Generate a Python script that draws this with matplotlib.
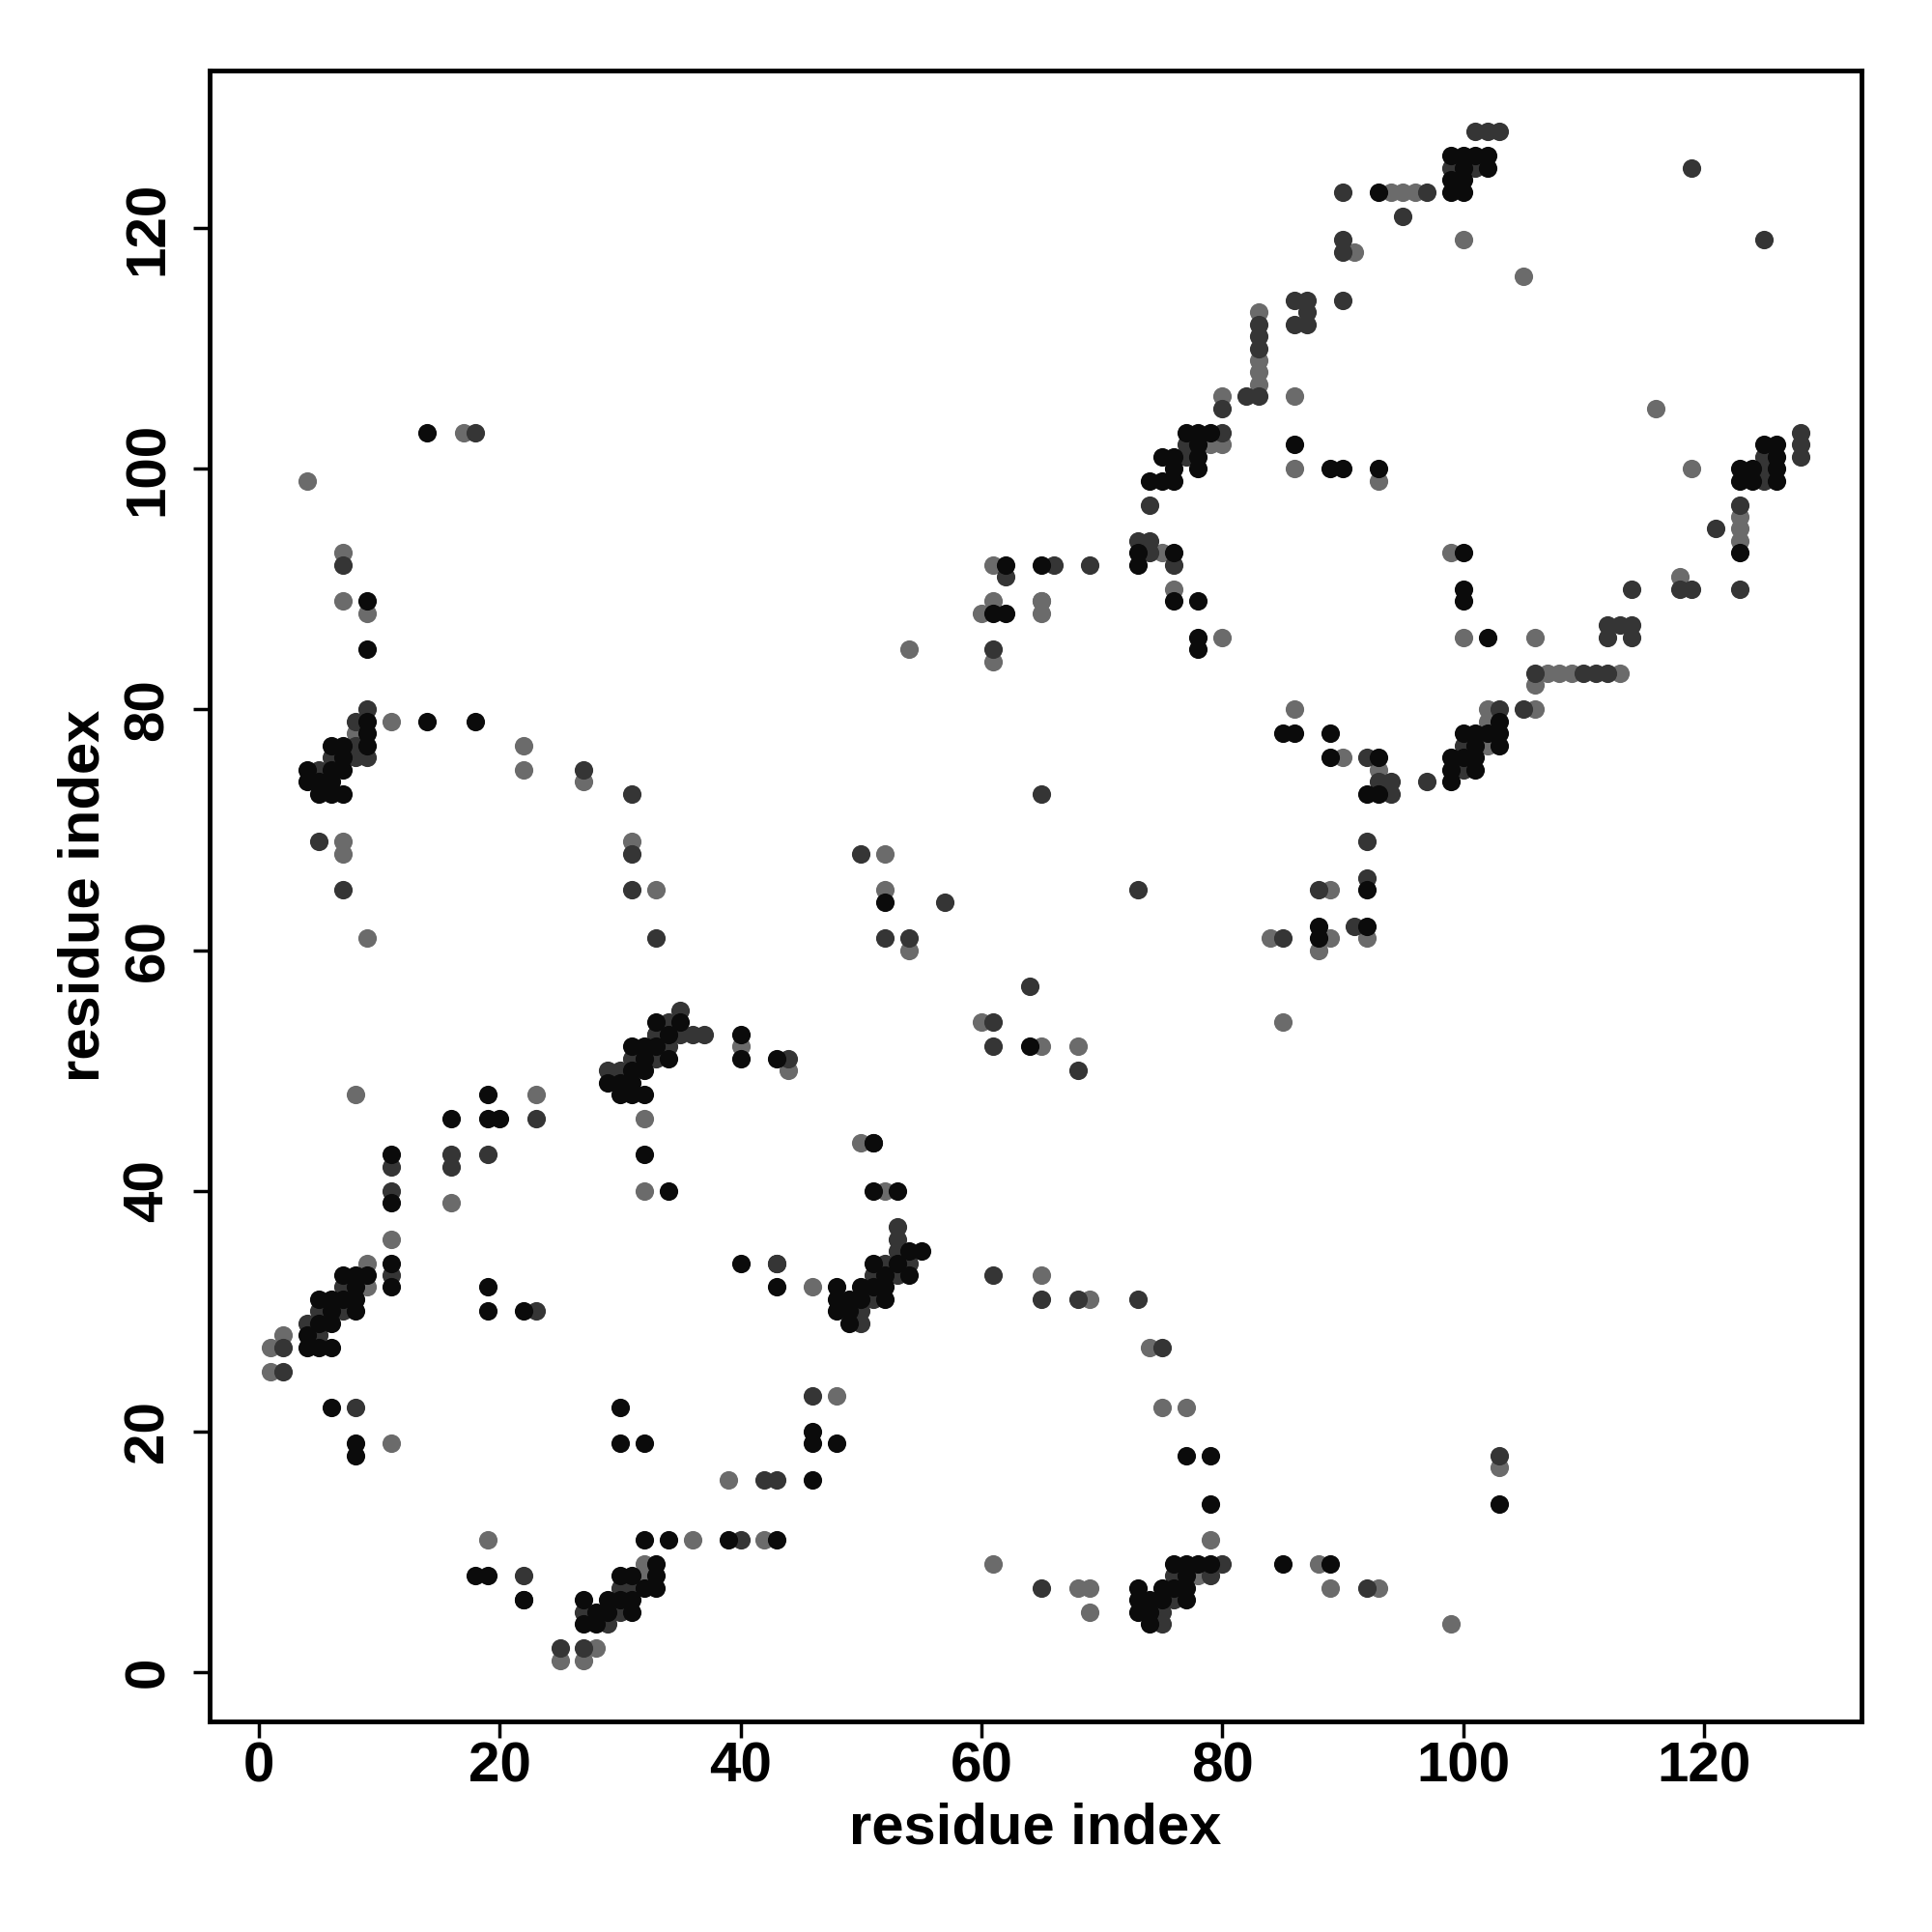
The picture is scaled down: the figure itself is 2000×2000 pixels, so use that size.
import matplotlib
matplotlib.use("Agg")
import matplotlib.pyplot as plt

plt.rcParams['font.family'] = ['Liberation Sans', 'DejaVu Sans']

# contact map: residue i (x), residue j (y), shade code (k=black, d=dark grey, g=grey)
black_i = [99,100,101,102,100,102,99,100,99,100,93,77,78,79,78,75,76,78,76,78,74,75,76,73,76,73,76,78,86,89,90,93,100,100,100,65,62,61,62,78,78,
           125,126,126,123,124,126,123,124,126,123,102,103,100,101,102,103,101,103,99,100,101,99,101,99,
           85,86,89,89,93,92,93,92,88,92,88,64,52,
           14,9,9,9,9,9,6,7,7,4,6,7,4,5,6,5,6,7,14,18,
           19,16,19,20,11,11,11,11,9,7,8,8,5,6,7,8,6,8,5,6,4,4,5,6,6,8,8,
           19,19,22,30,30,32,18,19,22,27,27,28,28,29,29,30,30,31,31,31,32,33,33,32,33,34,39,43,46,46,46,48,
           33,35,34,31,32,33,32,34,31,32,29,30,31,30,31,32,32,34,40,40,43,
           40,43,51,51,53,54,55,51,53,52,54,48,50,51,52,48,49,50,52,48,49,49,
           77,79,79,76,77,78,79,77,73,75,76,77,73,74,75,77,73,74,74,85,89,103]
black_j = [126,126,126,126,125,125,124,124,123,123,123,103,103,103,102,101,101,101,100,100,99,99,99,93,93,92,89,89,102,100,100,100,93,90,89,92,92,88,88,86,85,
           102,102,101,100,100,100,99,99,99,93,86,79,78,78,78,78,77,77,76,76,76,75,75,74,
           78,78,78,76,76,65,73,73,62,62,61,52,64,
           103,89,85,79,78,77,77,77,76,75,75,75,74,74,74,73,73,73,79,79,
           48,46,46,46,43,39,34,32,33,33,33,32,31,31,31,31,30,30,29,29,28,27,27,27,22,19,18,
           32,30,30,22,19,19,8,8,6,6,4,5,4,6,5,8,6,8,6,5,7,8,7,11,9,11,11,11,16,20,19,19,
           54,54,53,52,52,52,51,51,50,50,49,49,49,48,48,48,43,40,53,51,51,
           34,32,44,40,40,35,35,34,34,33,33,32,32,32,32,31,31,31,31,30,30,29,
           18,18,14,9,9,9,9,8,7,7,7,7,6,6,6,6,5,5,4,9,9,14]

dark_i = [101,102,103,99,101,90,97,95,90,90,90,86,87,87,86,87,83,83,83,83,82,80,80,77,77,74,73,74,74,76,66,69,62,61,
          119,125,128,128,128,125,125,125,123,121,118,119,123,114,112,113,114,112,114,106,110,111,112,105,103,100,100,97,
          92,93,94,94,65,73,92,92,88,91,85,68,64,61,61,50,57,52,54,
          18,7,9,9,8,8,8,6,5,27,31,31,31,33,5,7,
          23,11,16,16,19,11,11,7,5,7,4,5,2,2,8,23,22,27,29,30,30,31,33,34,40,42,43,43,46,25,27,22,
          35,34,33,35,36,37,34,31,33,29,30,44,43,51,53,53,53,52,54,51,53,51,50,50,
          61,65,68,73,75,80,76,79,75,76,75,92,65,103]
dark_j = [128,128,128,125,125,123,123,121,119,118,114,114,114,113,112,112,112,111,110,106,106,105,103,102,101,97,94,94,93,92,92,92,91,85,
          125,119,103,102,101,101,100,99,97,95,90,90,90,90,87,87,87,86,86,83,83,83,83,80,80,77,75,74,
          76,74,74,73,73,65,69,66,65,62,61,50,57,52,54,68,64,61,61,
          103,92,80,76,79,77,76,76,75,75,73,68,65,61,69,65,
          46,42,43,42,43,40,33,32,30,30,29,28,27,25,22,30,8,5,4,7,5,7,53,53,11,16,16,34,23,2,2,6,
          55,54,53,53,53,53,52,51,51,50,50,51,34,44,37,36,35,34,34,33,33,31,30,29,
          33,31,31,31,27,9,8,8,5,6,4,7,7,18]

grey_i = [94,95,96,91,100,83,83,83,83,80,86,79,80,75,76,86,93,99,65,61,61,60,65,65,80,54,61,
          105,116,119,123,123,123,118,100,106,107,108,109,113,106,106,102,102,102,
          86,90,93,89,92,84,89,88,85,65,68,60,52,52,54,
          17,4,7,7,9,8,11,22,22,27,31,33,7,7,9,
          8,23,16,11,9,9,2,1,1,11,19,25,28,27,32,36,32,42,39,48,
          32,32,40,44,46,32,50,52,65,69,74,75,77,79,78,88,89,93,68,69,69,99,103,61]
grey_j = [123,123,123,118,119,113,109,108,107,106,106,102,102,93,90,100,99,93,89,92,89,88,89,88,86,85,84,
          116,105,100,96,95,94,91,86,86,83,83,83,83,82,80,80,79,77,
          80,76,75,65,61,61,61,60,54,52,52,54,68,65,60,
          103,99,93,89,88,78,79,77,75,74,69,65,69,68,61,
          48,48,39,36,34,32,28,27,25,19,11,1,2,1,9,11,8,11,16,23,
          46,40,52,50,32,8,44,40,33,31,27,22,22,11,8,9,7,7,7,7,5,4,17,9]

shades = {'black': '#0b0b0b', 'dark': '#353535', 'grey': '#6b6b6b'}

fig = plt.figure(figsize=(20, 20), dpi=100)
ax = fig.add_axes([0.1085, 0.109, 0.855, 0.8545])

ax.scatter(grey_i, grey_j, s=190, c=shades['grey'], linewidths=0, zorder=2)
ax.scatter(dark_i, dark_j, s=190, c=shades['dark'], linewidths=0, zorder=3)
ax.scatter(black_i, black_j, s=190, c=shades['black'], linewidths=0, zorder=4)

lo, hi = 1 - 0.04 * 127, 128 + 0.04 * 127
ax.set_xlim(lo, hi)
ax.set_ylim(lo, hi)
ticks = [0, 20, 40, 60, 80, 100, 120]
ax.set_xticks(ticks)
ax.set_yticks(ticks)
ax.set_xticklabels([str(t) for t in ticks], fontsize=42, fontweight='bold')
ax.set_yticklabels([str(t) for t in ticks], fontsize=42, fontweight='bold',
                   rotation=90, va='center')
ax.tick_params(axis='both', direction='out', length=12, width=2.5)
ax.tick_params(axis='x', pad=3)
ax.tick_params(axis='y', pad=14)
for sp in ax.spines.values():
    sp.set_linewidth(3.5)
ax.set_xlabel('residue index', fontsize=43, fontweight='bold', labelpad=6)
ax.set_ylabel('residue index', fontsize=43, fontweight='bold', labelpad=9)

fig.savefig('out.png', dpi=100, facecolor='white')
